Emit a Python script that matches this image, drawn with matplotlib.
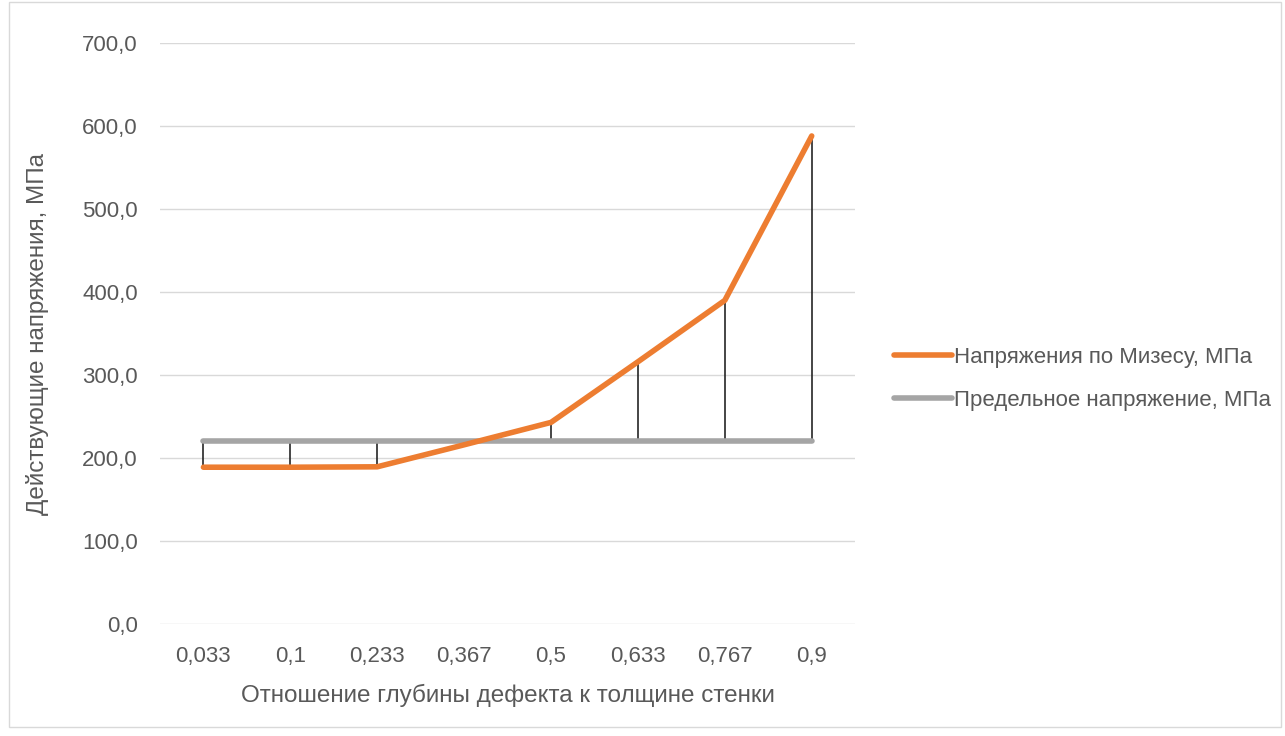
import matplotlib.pyplot as plt
from matplotlib.patches import Rectangle

plt.rcParams['font.family'] = ['Liberation Sans', 'DejaVu Sans']

categories = ['0,033', '0,1', '0,233', '0,367', '0,5', '0,633', '0,767', '0,9']
mises = [189.0, 189.0, 189.5, 216.0, 243.0, 316.0, 390.0, 588.0]
limit = [221.0, 221.0, 221.0, 221.0, 221.0, 221.0, 221.0, 221.0]
y_ticks = [0, 100, 200, 300, 400, 500, 600, 700]

text_color = '#595959'

fig = plt.figure(figsize=(12.85, 7.36), dpi=100)
ax = fig.add_axes([0.1245, 0.152, 0.541, 0.7896])

x = list(range(len(categories)))

# high-low lines between the two series
lows = [min(a, b) for a, b in zip(mises, limit)]
highs = [max(a, b) for a, b in zip(mises, limit)]
ax.vlines(x, lows, highs, color='#262626', linewidth=1.2, zorder=2)

ax.plot(x, limit, color='#A5A5A5', linewidth=4, solid_capstyle='round',
        label='Предельное напряжение, МПа', zorder=3)
ax.plot(x, mises, color='#ED7D31', linewidth=4, solid_capstyle='round',
        solid_joinstyle='round', label='Напряжения по Мизесу, МПа', zorder=4)

ax.set_xlim(-0.5, len(categories) - 0.5)
ax.set_ylim(0, 700)
ax.set_yticks(y_ticks)
ax.set_yticklabels([f'{v:.1f}'.replace('.', ',') for v in y_ticks])
ax.set_xticks(x)
ax.set_xticklabels(categories)
ax.tick_params(length=0, labelsize=16, colors=text_color)
ax.tick_params(axis='x', pad=16)
ax.tick_params(axis='y', pad=16)
ax.grid(axis='y', color='#D9D9D9', linewidth=1)
ax.set_axisbelow(True)
for s in ax.spines.values():
    s.set_visible(False)

ax.set_xlabel('Отношение глубины дефекта к толщине стенки', fontsize=17.5,
              color=text_color, labelpad=12)
ax.set_ylabel('Действующие напряжения, МПа', fontsize=17.5,
              color=text_color, labelpad=24)

h, l = ax.get_legend_handles_labels()
fig.legend(h[::-1], l[::-1], loc='center left', bbox_to_anchor=(0.680, 0.485),
           frameon=False, fontsize=16, labelcolor=text_color,
           handlelength=2.6, handletextpad=0.1, labelspacing=1.0)

fig.patches.append(Rectangle((0.007, 0.012), 0.99, 0.985, transform=fig.transFigure,
                             fill=False, edgecolor='#D9D9D9', linewidth=1))

fig.savefig('out.png', dpi=100)
